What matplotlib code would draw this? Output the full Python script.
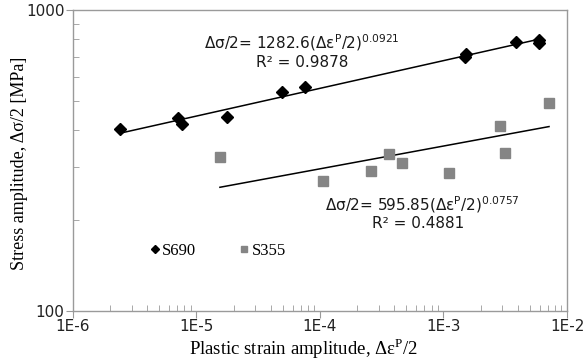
import matplotlib
matplotlib.use("Agg")
import matplotlib.pyplot as plt
import numpy as np
from matplotlib.ticker import LogLocator, NullFormatter, FixedLocator, FixedFormatter

# Data
s690_x = [2.4e-6, 7.1e-6, 7.6e-6, 1.78e-5, 4.9e-5, 7.6e-5, 1.49e-3, 1.52e-3, 3.85e-3, 5.9e-3, 5.95e-3]
s690_y = [403, 437, 418, 442, 533, 556, 700, 715, 781, 775, 792]
s355_x = [1.55e-5, 1.06e-4, 2.57e-4, 3.64e-4, 4.64e-4, 1.10e-3, 2.87e-3, 3.16e-3, 7.15e-3]
s355_y = [326, 270, 292, 332, 310, 287, 412, 334, 490]
fit690 = (1282.6, 0.0921)
fit355 = (595.85, 0.0757)
xtick_vals = [1e-6, 1e-5, 1e-4, 1e-3, 1e-2]
xtick_labels = ["1E-6", "1E-5", "1E-4", "1E-3", "1E-2"]
ytick_vals = [100, 1000]
ytick_labels = ["100", "1000"]

serif = "Liberation Serif"
sans = "DejaVu Sans"
fig = plt.figure(figsize=(5.83, 3.61), dpi=100)
ax = fig.add_axes([0.125, 0.1385, 0.8476, 0.8338])

gray = "#9a9a9a"
for s in ax.spines.values():
    s.set_color(gray)
    s.set_linewidth(1.0)

# fit lines
x1 = np.logspace(np.log10(min(s690_x)), np.log10(max(s690_x)), 50)
ax.plot(x1, fit690[0] * x1 ** fit690[1], color="black", lw=1.1, zorder=2)
x2 = np.logspace(np.log10(min(s355_x)), np.log10(max(s355_x)), 50)
ax.plot(x2, fit355[0] * x2 ** fit355[1], color="black", lw=1.1, zorder=2)

ax.plot(s690_x, s690_y, linestyle="none", marker="D", color="black", markersize=6.5, label="S690", zorder=3)
ax.plot(s355_x, s355_y, linestyle="none", marker="s", color="#858585", markersize=7, label="S355", zorder=3)

ax.set_xscale("log")
ax.set_yscale("log")
ax.set_xlim(1e-6, 1e-2)
ax.set_ylim(100, 1000)

ax.xaxis.set_major_locator(FixedLocator(xtick_vals))
ax.xaxis.set_major_formatter(FixedFormatter(xtick_labels))
ax.yaxis.set_major_locator(FixedLocator(ytick_vals))
ax.yaxis.set_major_formatter(FixedFormatter(ytick_labels))
ax.xaxis.set_minor_locator(LogLocator(base=10, subs=np.arange(2, 10)))
ax.yaxis.set_minor_locator(LogLocator(base=10, subs=np.arange(2, 10)))
ax.xaxis.set_minor_formatter(NullFormatter())
ax.yaxis.set_minor_formatter(NullFormatter())

ax.tick_params(which="major", direction="out", length=5, color=gray, labelsize=11, pad=1)
ax.tick_params(which="minor", direction="in", length=4, color=gray)
for lab in ax.get_xticklabels() + ax.get_yticklabels():
    lab.set_fontfamily(sans)
    lab.set_color("#222222")

ax.set_xlabel("Plastic strain amplitude, Δε$^{\\mathregular{P}}$/2", fontsize=13.5, fontfamily=serif)
ax.xaxis.set_label_coords(0.466, -0.083)
ax.set_ylabel("Stress amplitude, Δσ/2 [MPa]", fontsize=13, fontfamily=serif)
ax.yaxis.set_label_coords(-0.091, 0.49)

tc = "#1a1a1a"
ax.text(0.4636, 0.89, "Δσ/2= 1282.6(Δε$^{\\mathregular{P}}$/2)$^{\\mathregular{0.0921}}$",
        transform=ax.transAxes, ha="center", va="center", fontsize=11, fontfamily=sans, color=tc)
ax.text(0.4636, 0.827, "R² = 0.9878", transform=ax.transAxes, ha="center", va="center",
        fontsize=11, fontfamily=sans, color=tc)
ax.text(0.706, 0.352, "Δσ/2= 595.85(Δε$^{\\mathregular{P}}$/2)$^{\\mathregular{0.0757}}$",
        transform=ax.transAxes, ha="center", va="center", fontsize=11, fontfamily=sans, color=tc)
ax.text(0.698, 0.292, "R² = 0.4881", transform=ax.transAxes, ha="center", va="center",
        fontsize=11, fontfamily=sans, color=tc)

leg = ax.legend(loc="center", bbox_to_anchor=(0.294, 0.2), ncol=2, frameon=False,
                prop={"family": serif, "size": 12}, handlelength=0.5, handletextpad=0.2,
                columnspacing=2.6, markerscale=0.7, borderpad=0)

fig.savefig("out.png", dpi=100)
